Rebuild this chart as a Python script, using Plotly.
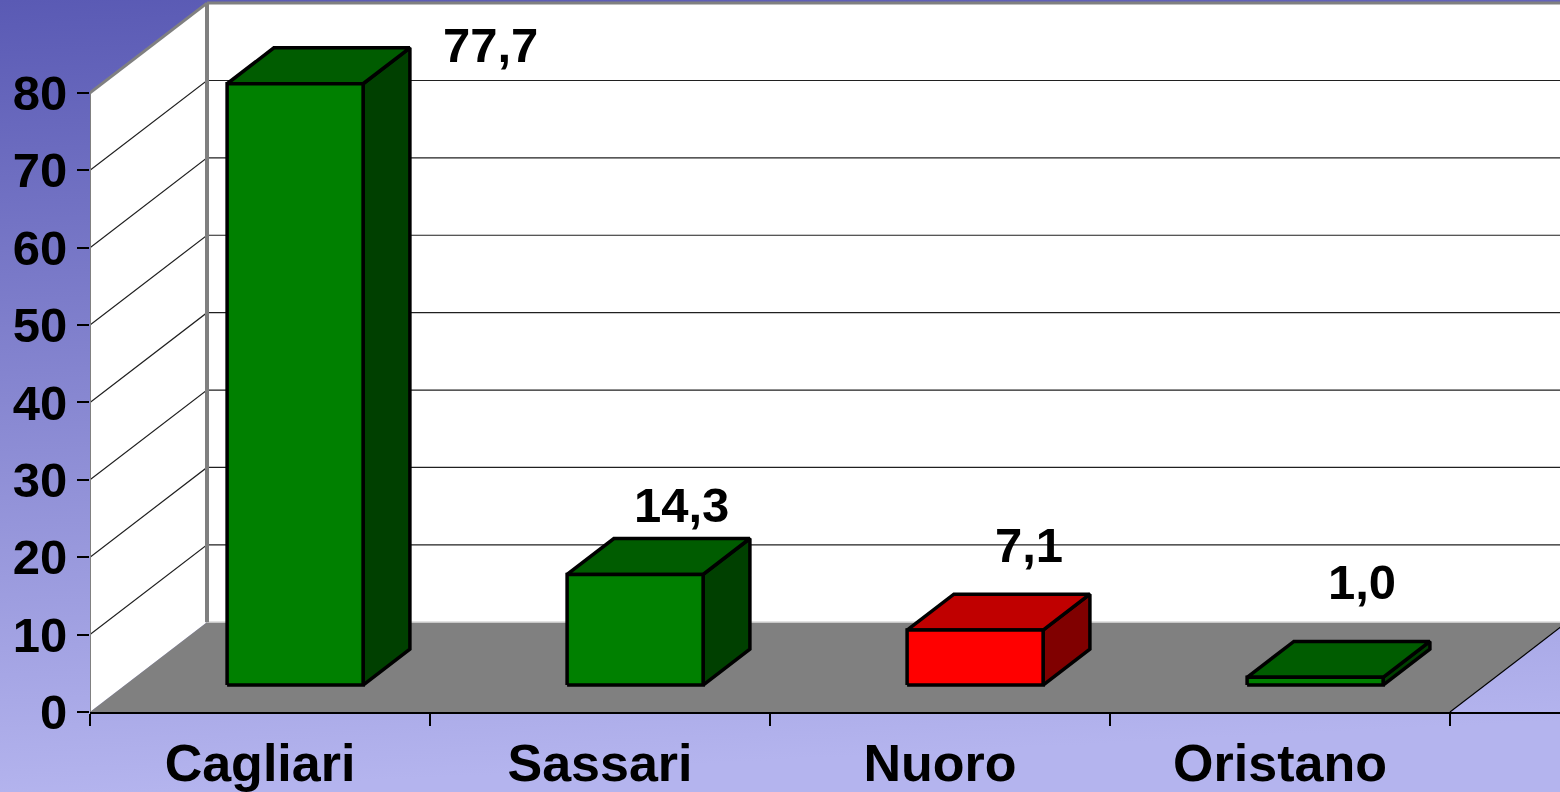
import base64
import plotly.graph_objects as go

# ---- data ----
categories = ["Cagliari", "Sassari", "Nuoro", "Oristano"]
values = [77.7, 14.3, 7.1, 1.0]
y_ticks = [0, 10, 20, 30, 40, 50, 60, 70, 80]

# ---- style ----
FRONT = ["#008000", "#008000", "#FF0000", "#008000"]
TOP = ["#005C00", "#005C00", "#C00000", "#005C00"]
SIDE = ["#004000", "#004000", "#800000", "#004000"]
LABEL_SHIFT = [(149, -26), (0, 4), (7, 20), (0, 30)]   # (xshift, yshift) px
FONT = "Liberation Sans, Arial, sans-serif"

W, H = 1560, 792
ML, MB = 90, 80
XMAX = (W - ML) / 340.0
YMAX = 92.0
DX = 117 / 340.0      # depth offset in x units
DY = 11.6             # depth offset in y units
F1, F2 = 0.3, 0.7     # bar depth extent (fraction of depth)
GAP = 0.3             # bar starts at 0.3 of category width, width 0.4
YTOP = max(y_ticks)

fig = go.Figure()

def poly(xs, ys, fill, line_color=None, width=0):
    fig.add_trace(go.Scatter(
        x=xs + [xs[0]], y=ys + [ys[0]], mode="lines", fill="toself",
        fillcolor=fill,
        line=dict(color=line_color or fill, width=width),
        hoverinfo="skip", showlegend=False))

def seg(xs, ys, color, width):
    fig.add_trace(go.Scatter(x=xs, y=ys, mode="lines",
                             line=dict(color=color, width=width),
                             hoverinfo="skip", showlegend=False))

n = len(categories)
# back wall
poly([DX, XMAX + 1, XMAX + 1, DX], [DY, DY, YTOP + DY, YTOP + DY], "white")
# side wall
poly([0, 0, DX, DX], [0, YTOP, YTOP + DY, DY], "white")
# grid lines
gx, gy = [], []
for t in y_ticks[1:-1]:
    gx += [0, DX, XMAX + 1, None]
    gy += [t, t + DY, t + DY, None]
seg(gx, gy, "#202020", 1.2)
# floor
poly([0, DX, n + DX, n], [0, DY, DY, 0], "#808080")
seg([DX, XMAX + 1], [DY, DY], "#C8C8C8", 1.5)
seg([n, n + DX], [0, DY], "black", 1.2)
# wall borders
seg([0, 0], [0, YTOP], "#808080", 2)
seg([0, DX], [YTOP, YTOP + DY], "#808080", 3)
seg([DX, DX], [DY, YTOP + DY], "#808080", 4)
seg([DX, XMAX + 1], [YTOP + DY, YTOP + DY], "#808080", 3)

# bars
for i, v in enumerate(values):
    x0 = i + GAP + F1 * DX
    x1 = i + 1 - GAP + F1 * DX
    y0 = F1 * DY
    y1 = v + F1 * DY
    ddx = (F2 - F1) * DX
    ddy = (F2 - F1) * DY
    # side face
    poly([x1, x1 + ddx, x1 + ddx, x1], [y0, y0 + ddy, y1 + ddy, y1], SIDE[i], "black", 3.5)
    # top face
    poly([x0, x0 + ddx, x1 + ddx, x1], [y1, y1 + ddy, y1 + ddy, y1], TOP[i], "black", 3.5)
    # front face
    poly([x0, x1, x1, x0], [y0, y0, y1, y1], FRONT[i], "black", 3.5)
    fig.add_annotation(
        x=i + 0.5 + F2 * DX, y=v + F2 * DY,
        text=f"{v:.1f}".replace(".", ","), showarrow=False,
        xanchor="center", yanchor="bottom",
        xshift=LABEL_SHIFT[i][0], yshift=LABEL_SHIFT[i][1],
        font=dict(family=FONT, size=49, color="black", weight="bold"))

# background gradient (full figure)
svg = f'''<svg xmlns="http://www.w3.org/2000/svg" width="{W}" height="{H}">
<defs><linearGradient id="g" x1="0" y1="0" x2="0.1" y2="1">
<stop offset="0" stop-color="#5A5AB4"/><stop offset="1" stop-color="#B4B4EE"/>
</linearGradient></defs><rect width="{W}" height="{H}" fill="url(#g)"/></svg>'''
src = "data:image/svg+xml;base64," + base64.b64encode(svg.encode()).decode()
pw, ph = W - ML, H - MB
fig.add_layout_image(dict(source=src, xref="paper", yref="paper",
                          x=-ML / pw, y=1, sizex=W / pw, sizey=H / ph,
                          xanchor="left", yanchor="top", sizing="stretch",
                          layer="below"))

fig.update_layout(
    width=W, height=H,
    margin=dict(l=ML, r=0, t=0, b=MB, autoexpand=False),
    paper_bgcolor="#B0B0EA", plot_bgcolor="rgba(0,0,0,0)",
    showlegend=False,
    xaxis=dict(range=[0, XMAX], showgrid=False, zeroline=False, automargin=False,
               showline=True, linecolor="black", linewidth=2,
               tickmode="array", tickvals=[i + 0.5 for i in range(n)],
               ticktext=categories, ticks="",
               tickfont=dict(family=FONT, size=52, color="black", weight="bold"),
               ticklabelstandoff=5,
               minor=dict(tickmode="array", tickvals=list(range(n + 1)),
                          ticks="outside", ticklen=12, tickwidth=1.5,
                          tickcolor="black", showgrid=False)),
    yaxis=dict(range=[0, YMAX], showgrid=False, zeroline=False, showline=False,
               automargin=False,
               tickmode="array", tickvals=y_ticks,
               ticks="outside", ticklen=12, tickwidth=1.5, tickcolor="black",
               tickfont=dict(family=FONT, size=49, color="black", weight="bold"),
               ticklabelstandoff=0),
)

fig.write_html("out.html", config={"displayModeBar": False},
               post_script="document.body.style.margin='0';"
                           "document.body.style.overflow='hidden';")
